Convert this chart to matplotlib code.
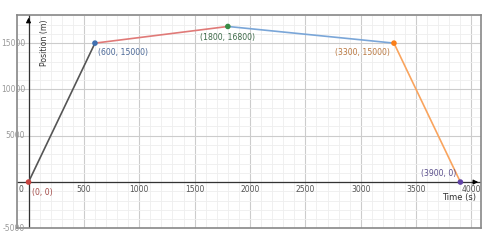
import matplotlib.pyplot as plt
from matplotlib.ticker import MultipleLocator

# points of the trip
times = [0, 600, 1800, 3300, 3900]
positions = [0, 15000, 16800, 15000, 0]
point_labels = ['(0, 0)', '(600, 15000)', '(1800, 16800)', '(3300, 15000)', '(3900, 0)']
point_colors = ['#c74440', '#3f6fb0', '#388c46', '#fa7e19', '#6042a6']
label_colors = ['#a34a47', '#4a6796', '#3d6a48', '#b9773f', '#5b4f8c']
seg_colors = ['#555555', '#e07a78', '#7aa6d8', '#f9a45e']

x_ticks = [500, 1000, 1500, 2000, 2500, 3000, 3500, 4000]
y_ticks = [15000, 10000, 5000, -5000]

fig = plt.figure(figsize=(5, 2.44), dpi=100)
ax = fig.add_axes([0.034, 0.066, 0.928, 0.873])
ax.set_xlim(-104, 4086)
ax.set_ylim(-4950, 18050)

# grid
ax.xaxis.set_major_locator(MultipleLocator(500))
ax.xaxis.set_minor_locator(MultipleLocator(100))
ax.yaxis.set_major_locator(MultipleLocator(5000))
ax.yaxis.set_minor_locator(MultipleLocator(1000))
ax.grid(which='major', color='#cccccc', linewidth=0.8)
ax.grid(which='minor', color='#eeeeee', linewidth=0.6)
ax.set_axisbelow(True)
ax.tick_params(which='both', length=0, labelbottom=False, labelleft=False)
for s in ax.spines.values():
    s.set_color('#888888')
    s.set_linewidth(1.2)

# axes with arrows
ax.axhline(0, color='#333333', lw=0.9, zorder=1)
ax.axvline(0, color='#333333', lw=0.9, zorder=1)
ax.annotate('', xy=(4086, 0), xytext=(3990, 0),
            arrowprops=dict(arrowstyle='-|>', color='black', lw=0.8, mutation_scale=7))
ax.annotate('', xy=(0, 18050), xytext=(0, 17000),
            arrowprops=dict(arrowstyle='-|>', color='black', lw=0.8, mutation_scale=7))

# tick labels
for xt in x_ticks:
    ax.text(xt, -350, str(xt), ha='center', va='top', fontsize=5.5, color='#555555')
for yt in y_ticks:
    ax.text(-30, yt, str(yt), ha='right', va='center', fontsize=5.5, color='#999999')
ax.text(-50, -350, '0', ha='right', va='top', fontsize=5.5, color='#555555')

ax.text(3890, -1650, 'Time (s)', ha='center', va='center', fontsize=6, color='#333333')
ax.text(100, 15000, 'Position (m)', rotation=90, ha='left', va='center', fontsize=5.6, color='#333333')

# segments
for i in range(len(times) - 1):
    ax.plot(times[i:i + 2], positions[i:i + 2], color=seg_colors[i], lw=1.2, zorder=3)

ax.scatter(times, positions, c=point_colors, s=9, zorder=4)

offsets = [(32, -1130, 'left'), (28, -1045, 'left'), (-5, -1230, 'center'),
           (-41, -1045, 'right'), (-35, 916, 'right')]
for t, p, lab, c, (dx, dy, ha) in zip(times, positions, point_labels, label_colors, offsets):
    ax.text(t + dx, p + dy, lab, color=c, fontsize=5.6, ha=ha, va='center')

fig.savefig('out.png')
